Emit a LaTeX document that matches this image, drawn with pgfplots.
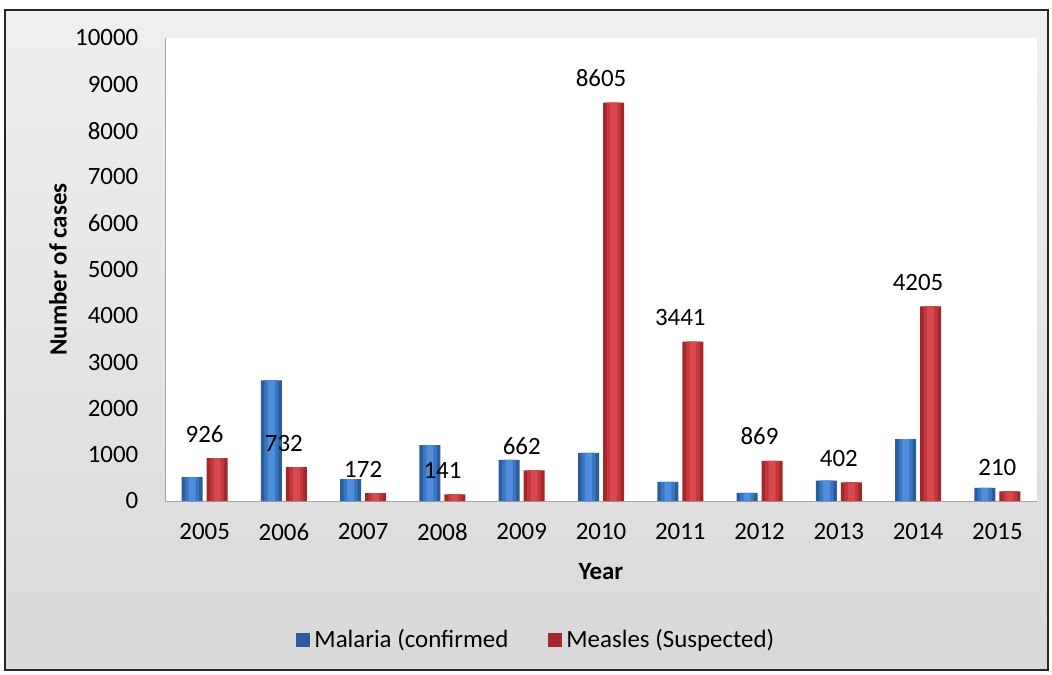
\documentclass[border=0pt]{standalone}
\usepackage{fontspec}
\setmainfont{Carlito}
\usepackage{pgfplots}
\usepackage{pgfplotstable}
\pgfplotsset{compat=1.18}

\definecolor{malD}{HTML}{2B5C9C}
\definecolor{malM}{HTML}{3A75C0}
\definecolor{malL}{HTML}{4F8EDA}
\definecolor{meaD}{HTML}{A3272B}
\definecolor{meaM}{HTML}{C2373B}
\definecolor{meaL}{HTML}{D84A4E}

\pgfplotstableread{
x year malaria measles
0 2005 514 926
1 2006 2603 732
2 2007 470 172
3 2008 1208 141
4 2009 889 662
5 2010 1041 8605
6 2011 412 3441
7 2012 173 869
8 2013 440 402
9 2014 1338 4205
10 2015 282 210
}\datatable

\begin{document}
\fontsize{12.5}{15}\selectfont
\begin{tikzpicture}
\path[use as bounding box] (-82.5bp,-87bp) rectangle (443.5bp,250.5bp);
\shade[top color=gray!12, bottom color=gray!30] (-80bp,-84.5bp) rectangle (441.5bp,245.5bp);
\draw[black!85, line width=1bp] (-80bp,-84.5bp) rectangle (441.5bp,245.5bp);
\begin{axis}[
    scale only axis,
    width=436bp, height=231.5bp,
    xmin=-0.5, xmax=10.5,
    ymin=0, ymax=10000,
    ytick={0,1000,...,10000},
    xtick={0,...,10},
    xticklabels from table={\datatable}{year},
    axis background/.style={fill=white},
    axis x line*=bottom, axis y line*=left,
    axis line style={gray!70, -},
    major tick length=0pt,
    scaled y ticks=false,
    /pgf/number format/.cd, 1000 sep={}, assume math mode=true,
    /pgfplots/.cd,
    yticklabel style={xshift=-9bp},
    xticklabel style={yshift=-7bp},
    ylabel={Number of cases},
    xlabel={Year},
    y label style={at={(axis description cs:-0.1227,0.5)}, anchor=center, font=\bfseries},
    x label style={at={(axis description cs:0.5,-0.153)}, anchor=center, font=\bfseries},
    legend style={at={(axis description cs:0.427,-0.30)}, anchor=center,
      draw=none, fill=none, legend columns=2,
      /tikz/every even column/.append style={column sep=18bp}},
    legend image code/.code={\path[#1,draw=none] (0bp,-3.5bp) rectangle (7bp,3.5bp);},
  ]
% Malaria: dark outer bar, lighter inner strips for the rounded look
\addplot[ybar, bar width=10.5bp, bar shift=-6.25bp, draw=none, fill=malD]
  table[x=x, y=malaria] {\datatable};
\addplot[ybar, bar width=7bp, bar shift=-6.25bp, draw=none, fill=malM, forget plot]
  table[x=x, y=malaria] {\datatable};
\addplot[ybar, bar width=3.5bp, bar shift=-6.25bp, draw=none, fill=malL, forget plot]
  table[x=x, y=malaria] {\datatable};
% Measles
\addplot[ybar, bar width=10.5bp, bar shift=6.25bp, draw=none, fill=meaD]
  table[x=x, y=measles] {\datatable};
\addplot[ybar, bar width=7bp, bar shift=6.25bp, draw=none, fill=meaM, forget plot]
  table[x=x, y=measles] {\datatable};
\addplot[ybar, bar width=3.5bp, bar shift=6.25bp, draw=none, fill=meaL, forget plot,
    nodes near coords,
    nodes near coords style={anchor=south, yshift=3.5bp, text=black}]
  table[x=x, y=measles] {\datatable};
\legend{Malaria (confirmed, Measles (Suspected)}
\end{axis}
\end{tikzpicture}
\end{document}
